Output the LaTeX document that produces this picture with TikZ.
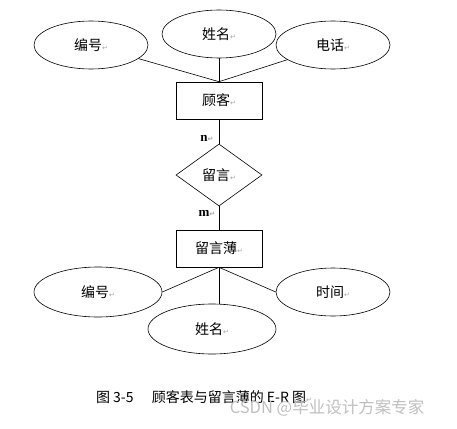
\documentclass[tikz,border=0pt]{standalone}
\usepackage{fontspec}
\setmainfont{Liberation Serif}
\newfontfamily\cjk{Noto Sans CJK SC}
\newfontfamily\symfont{DejaVu Sans}
\usepackage{tikz}
\usetikzlibrary{shapes.geometric}
\usetikzlibrary{positioning}
\newcommand{\retmark}{{\symfont\color{gray!70}\fontsize{7}{8}\selectfont ↵}}
\tikzset{
    entity/.style={draw=black, rectangle, minimum width=86pt, minimum height=37pt, inner sep=0pt, font=\cjk\fontsize{14}{16}\selectfont},
    attr/.style={draw=black, ellipse, minimum width=114pt, minimum height=48pt, inner sep=0pt, font=\cjk\fontsize{14}{16}\selectfont},
    bigattr/.style={attr, minimum width=128pt, minimum height=50pt},
    relation/.style={draw=black, diamond, minimum width=86pt, minimum height=62pt, inner sep=0pt, font=\cjk\fontsize{14}{16}\selectfont},
    card/.style={font=\bfseries\fontsize{13}{15}\selectfont},
    link/.style={draw=black},
}

\begin{document}
\begin{tikzpicture}[x=1pt,y=-1pt,line width=0.6pt]
\useasboundingbox (0,0) rectangle (457,428);

% customer and its attributes
\node [entity] (customer) at (219,100.5) {顾客\retmark};
\node [attr] (cid) at (91,45) {编号\retmark};
\node [attr] (cname) at (219,34) {姓名\retmark};
\node [attr] (cphone) at (333,45) {电话\retmark};

\draw [link] (cid) -- (customer.north);
\draw [link] (cname) -- (customer.north);
\draw [link] (cphone) -- (customer.north);

% relation
\node [relation] (msg) at (219,175) {留言\retmark};
\draw [link] (customer) -- (msg);
\node [card] (ncard) at (207,138) {n\retmark};

\node [entity] (book) at (219,248.5) {留言薄\retmark};
\draw [link] (msg) -- (book);
\node [card] (mcard) at (207,213) {m\retmark};

% guestbook attributes
\node [bigattr] (bid) at (98,292) {编号\retmark};
\node [bigattr] (bname) at (212,329) {姓名\retmark};
\node [attr] (btime) at (333,292) {时间\retmark};

\draw [link] (book.south) -- (bid.east);
\draw [link] (book.south) -- (book.south |- bname.north);
\draw [link] (book.south) -- (btime.west);

% caption
\node [font=\cjk\fontsize{14}{16}\selectfont] (caption) at (204,397) {图 3-5\hspace{1.3em}顾客表与留言薄的 E-R 图\retmark};
\node [font=\cjk\fontsize{16.5}{18}\selectfont, text=gray!50] (mark) at (327,408) {CSDN @毕业设计方案专家};
\end{tikzpicture}
\end{document}
